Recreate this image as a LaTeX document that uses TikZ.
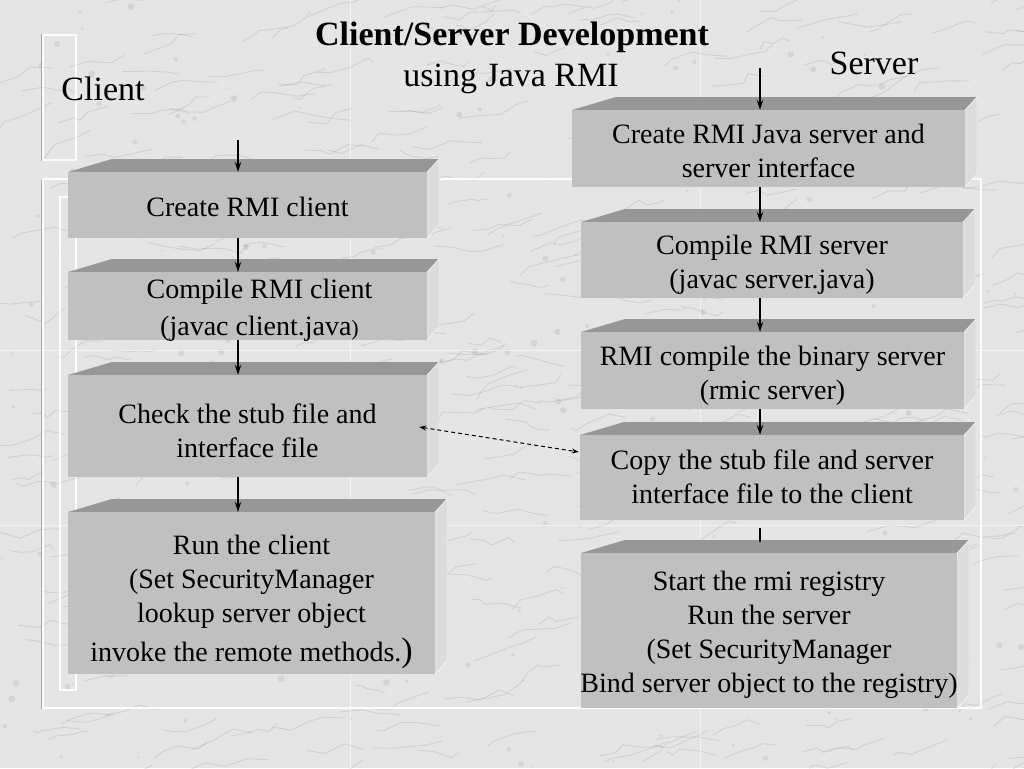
\documentclass[tikz,border=0pt]{standalone}
\usepackage{fontspec}
\setmainfont{Liberation Serif}
\usetikzlibrary{arrows.meta,calc}
\definecolor{marble}{HTML}{E5E5E5}
\definecolor{veincol}{HTML}{808080}
\definecolor{frontcol}{HTML}{C0C0C0}
\definecolor{topcol}{HTML}{979797}
\definecolor{sidecol}{HTML}{DCDCDC}
\tikzset{
  slabfront/.style={fill=frontcol, draw=none, inner sep=0pt},
  slabtext/.style={inner sep=0pt, align=center, font=\fontsize{28}{34}\selectfont, text=black},
  slabtop/.style={fill=topcol},
  slabside/.style={fill=sidecol, draw=white, line width=0.4pt},
  flow/.style={draw=black, line width=1.2pt, -{Stealth[length=10pt,width=6.5pt]}},
  flowline/.style={draw=black, line width=1.2pt},
  link/.style={draw=black, line width=1pt, dash pattern=on 4pt off 3pt,
    {Stealth[length=7pt,width=5pt]}-{Stealth[length=7pt,width=5pt]}},
  heading/.style={font=\fontsize{34}{40}\selectfont, inner sep=0pt, text=black},
  frame/.style={draw=white, line width=1.2pt, opacity=0.9},
  frameshadow/.style={draw=gray, line width=0.6pt, opacity=0.6},
  vein/.style={draw=veincol, line width=0.9pt, opacity=0.2, line join=round, line cap=round},
  seam/.style={draw=white, line width=1pt, opacity=0.55},
}
% name, x0, y0, x1, y1, text, text y-offset
\newcommand\mkslab[7]{%
  \fill[slabtop] (#2,#3) -- ({#2+44},{#3-13}) -- ({#4+12},{#3-13}) -- (#4,#3) -- cycle;
  \fill[slabside] (#4,#3) -- ({#4+12},{#3-13}) -- ({#4+12},{#5-13}) -- (#4,#5) -- cycle;
  \node[slabfront, minimum width={(#4-#2)*1pt}, minimum height={(#5-#3)*1pt}]
    (#1) at ({(#2+#4)/2},{(#3+#5)/2}) {};
  \node[slabtext] (#1t) at ($(#1.center)+(0,#7)$) {#6};
}
\begin{document}
\begin{tikzpicture}[x=1pt,y=-1pt]
\useasboundingbox (0,0) rectangle (1024,768);
% marble background
\fill[marble] (0,0) rectangle (1024,768);
\pgfmathsetseed{17}
\begin{scope}
\clip (0,0) rectangle (1024,768);
\foreach \i in {1,...,420}{
  \draw[vein] ({rnd*1060-20},{rnd*800-10})
    -- ++({4+rnd*18},{-rnd*14+4})
    -- ++({4+rnd*18},{-rnd*14+5})
    -- ++({4+rnd*18},{-rnd*14+4})
    -- ++({4+rnd*18},{-rnd*14+6});
}
\foreach \i in {1,...,220}{
  \fill[veincol, opacity=0.16] ({rnd*1024},{rnd*768}) circle ({1+rnd*2.5});
}
\end{scope}
% tile seams
\draw[seam] (350,0) -- (350,768);
\draw[seam] (700,0) -- (700,768);
\draw[seam] (0,350) -- (1024,350);
\draw[seam] (0,525) -- (1024,525);
% template frames
\draw[frameshadow] (41.5,34) -- (41.5,161);
\draw[frame] (43,35) rectangle (76,160);
\draw[frameshadow] (41.5,180) -- (41.5,709);
\draw[frame] (43,179) rectangle (981,708);
\draw[frame] (60,197) rectangle (76,690);
% headings
\node[heading, font={\bfseries\fontsize{34}{40}\selectfont}] (title) at (512,37) {Client/Server Development};
\node[heading] (subtitle) at (511,79) {using Java RMI};
\node[heading] (clientlbl) at (103,89) {Client};
\node[heading] (serverlbl) at (874,63) {Server};
% client column
\mkslab{c1}{68}{172}{427}{238}{Create RMI client}{2}
\mkslab{c2}{68}{272}{427}{340}{\hspace*{24pt}Compile RMI client\\[3pt]\hspace*{24pt}(javac client.java{\fontsize{22}{34}\selectfont)}}{4}
\mkslab{c3}{68}{375}{427}{477}{Check the stub file and\\interface file}{5}
\mkslab{c4}{68}{512}{435}{674}{Run the client\\(Set SecurityManager\\lookup server object\\[5pt]invoke the remote methods.{\fontsize{34}{34}\selectfont)}}{9}
% server column
\mkslab{s1}{572}{110}{965}{187}{Create RMI Java server and\\server interface}{2}
\mkslab{s2}{581}{222}{963}{298}{Compile RMI server\\(javac server.java)}{5}
\mkslab{s3}{581}{332}{964}{409}{RMI compile the binary server\\(rmic server)}{5}
\mkslab{s4}{580}{435}{964}{520}{Copy the stub file and server\\interface file to the client}{-1}
\mkslab{s5}{581}{553}{957}{708}{Start the rmi registry\\Run the server\\(Set SecurityManager\\Bind server object to the registry)}{4}
% connectors
\coordinate (cax) at (238,0);
\coordinate (sax) at (760,0);
\coordinate (cstart) at (238,140);
\coordinate (sstart) at (760,68);
\coordinate (s4tail) at (760,542);
\draw[flow] (cstart) -- (c1.north -| cax);
\draw[flow] (c1.south -| cax) -- (c2.north -| cax);
\draw[flow] (c2.south -| cax) -- (c3.north -| cax);
\draw[flow] (c3.south -| cax) -- (c4.north -| cax);
\draw[flow] (sstart) -- (s1.north -| sax);
\draw[flow] (s1.south -| sax) -- (s2.north -| sax);
\draw[flow] (s2.south -| sax) -- (s3.north -| sax);
\draw[flow] (s3.south -| sax) -- (s4.north -| sax);
\draw[flowline] ($(s4.south -| sax)+(0,8)$) -- (s4tail);
\draw[link] ($(c3.east)+(-8,1)$) -- ($(s4.west)+(-1,-25.5)$);
\end{tikzpicture}
\end{document}
